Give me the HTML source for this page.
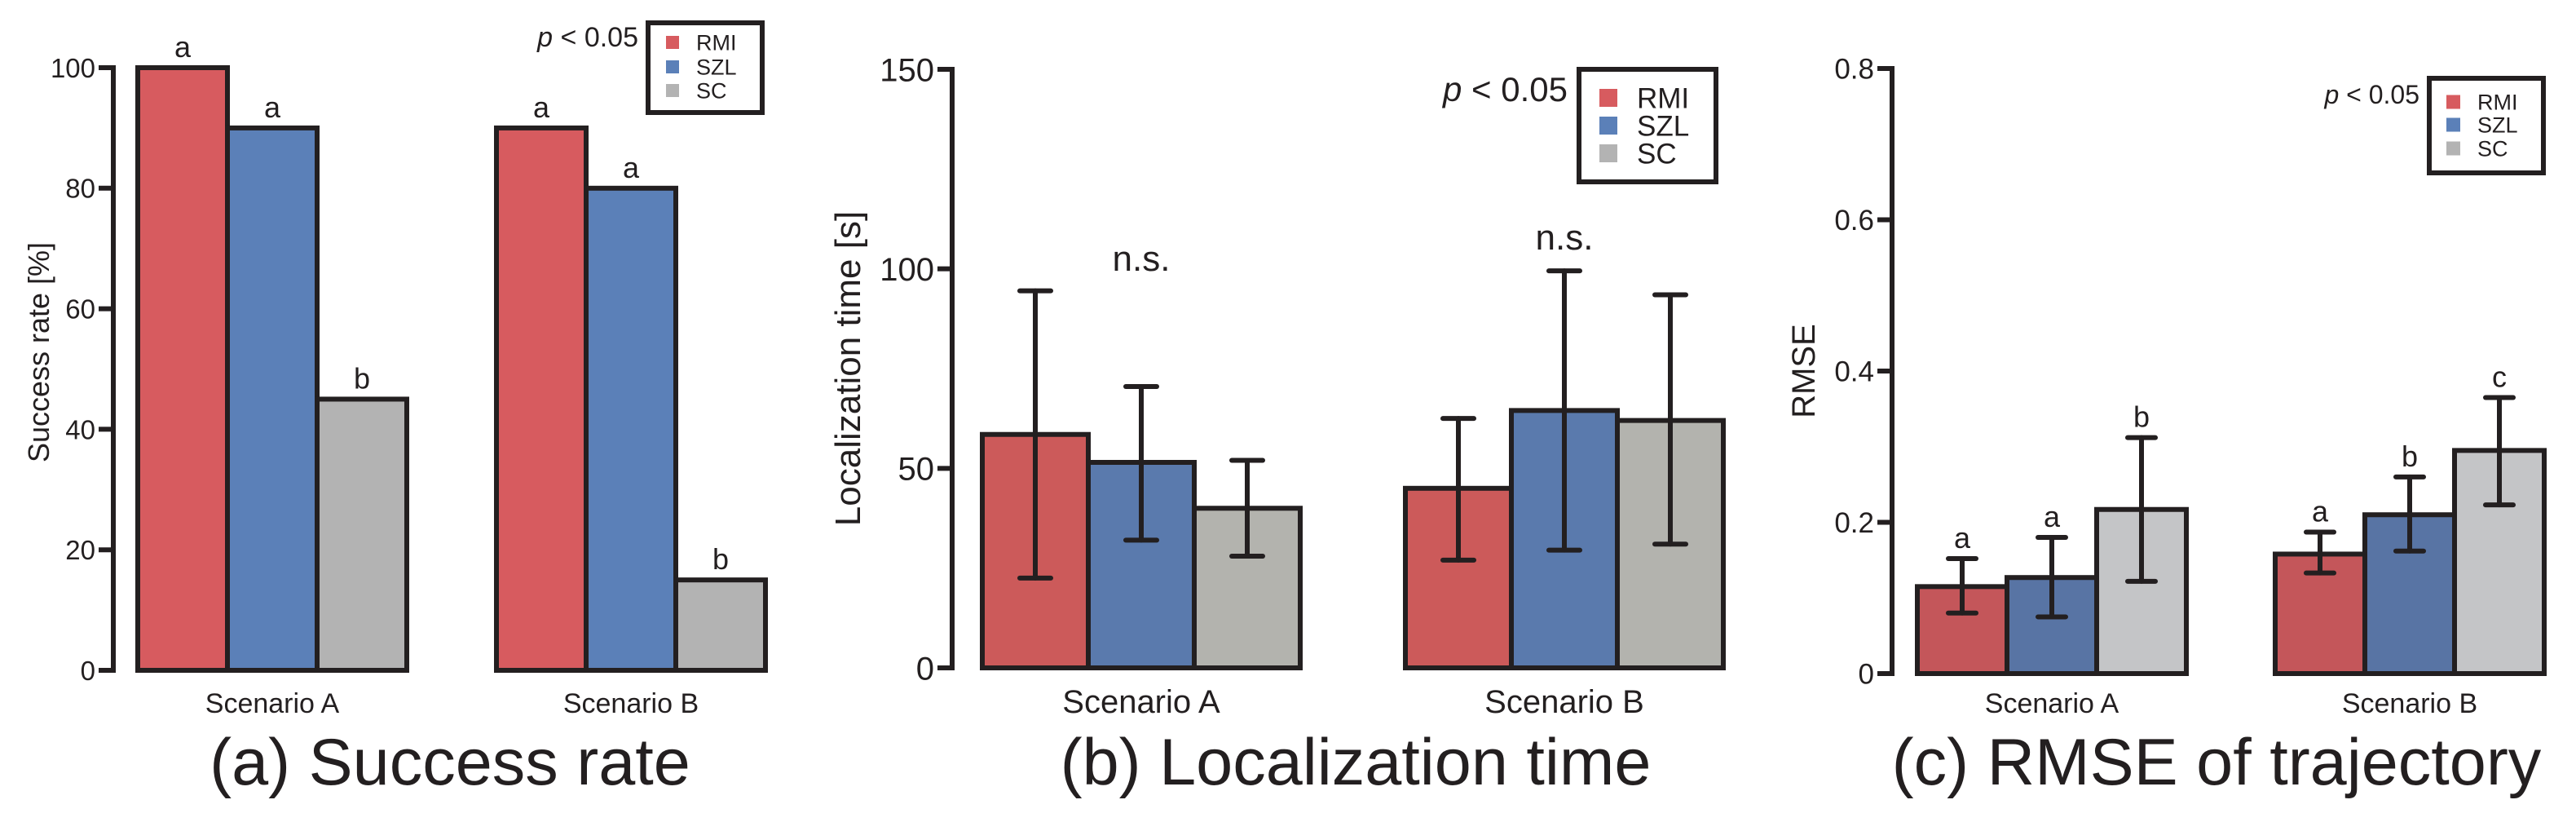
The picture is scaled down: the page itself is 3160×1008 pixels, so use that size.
<!DOCTYPE html>
<html><head><meta charset="utf-8"><style>
html,body{margin:0;padding:0;background:#fff;}
svg{display:block;font-family:"Liberation Sans",Arial,sans-serif;}
</style></head><body>
<svg id="fig" width="3160" height="1008" viewBox="0 0 3160 1008" xmlns="http://www.w3.org/2000/svg"></svg>
<script>
// ---- data ----
const scenarios = ["Scenario A", "Scenario B"];
const methods = ["RMI", "SZL", "SC"];
// (a) Success rate
const successRMI = [100, 90];
const successSZL = [90, 80];
const successSC = [45, 15];
const successLetters = [["a","a","b"],["a","a","b"]];
const successTicks = [0, 20, 40, 60, 80, 100];
// (b) Localization time
const timeRMI = [58.5, 45];
const timeSZL = [51.5, 64.5];
const timeSC = [40, 62];
const timeErrLowRMI = [22.5, 27];
const timeErrHighRMI = [94.5, 62.5];
const timeErrLowSZL = [32, 29.5];
const timeErrHighSZL = [70.5, 99.5];
const timeErrLowSC = [28, 31];
const timeErrHighSC = [52, 93.5];
const timeTicks = [0, 50, 100, 150];
const timeNotes = ["n.s.", "n.s."];
// (c) RMSE
const rmseRMI = [0.115, 0.158];
const rmseSZL = [0.127, 0.21];
const rmseSC = [0.217, 0.295];
const rmseErrLowRMI = [0.08, 0.133];
const rmseErrHighRMI = [0.152, 0.187];
const rmseErrLowSZL = [0.075, 0.162];
const rmseErrHighSZL = [0.18, 0.26];
const rmseErrLowSC = [0.122, 0.223];
const rmseErrHighSC = [0.312, 0.365];
const rmseLetters = [["a","a","b"],["a","b","c"]];
const rmseTicks = [0, 0.2, 0.4, 0.6, 0.8];

const NS = "http://www.w3.org/2000/svg";
const svg = document.getElementById("fig");
const DARK = "#231f20";
function mk(tag, attrs, parent, text) {
  const e = document.createElementNS(NS, tag);
  for (const k in attrs) e.setAttribute(k, attrs[k]);
  if (text !== undefined) e.textContent = text;
  (parent || svg).appendChild(e);
  return e;
}

function panel(cfg) {
  const g = mk("g", {});
  
  
  const y = v => cfg.y0 - (v - cfg.ymin) / (cfg.ymax - cfg.ymin) * (cfg.y0 - cfg.y1);
  const series = cfg.values;
  for (let s = 0; s < scenarios.length; s++) {
    for (let m = 0; m < 3; m++) {
      const x0 = cfg.groupX[s] + m * cfg.barW;
      const v = series[m][s];
      const r = mk("rect", {x: x0, y: y(v), width: cfg.barW, height: cfg.y0 - y(v), fill: cfg.colors[m], stroke: DARK, "stroke-width": 6}, g);
      
      
      const cx = x0 + cfg.barW / 2;
      let topV = v;
      if (cfg.errLow) {
        const lo = cfg.errLow[m][s], hi = cfg.errHigh[m][s];
        topV = hi;
        const eg = mk("g", {stroke: DARK, "stroke-width": 6, "stroke-linecap": "round"}, g);
        
        
        mk("line", {x1: cx, x2: cx, y1: y(lo), y2: y(hi)}, eg);
        mk("line", {x1: cx - cfg.cap, x2: cx + cfg.cap, y1: y(lo), y2: y(lo)}, eg);
        mk("line", {x1: cx - cfg.cap, x2: cx + cfg.cap, y1: y(hi), y2: y(hi)}, eg);
      }
      if (cfg.letters) {
        const t = mk("text", {x: cx, y: y(topV) - 13, "text-anchor": "middle", "font-size": cfg.letterSize, fill: DARK}, g, cfg.letters[s][m]);
        
        
      }
    }
    if (cfg.notes) {
      const t = mk("text", {x: cfg.groupX[s] + 1.5 * cfg.barW, y: cfg.noteY[s], "text-anchor": "middle", "font-size": 44, fill: DARK}, g, cfg.notes[s]);
      
      
    }
    const sl = mk("text", {x: cfg.groupX[s] + 1.5 * cfg.barW, y: 874, "text-anchor": "middle", "font-size": cfg.scenSize, fill: DARK}, g, scenarios[s]);
    
    
  }
  const ax = mk("line", {x1: cfg.axisX, x2: cfg.axisX, y1: y(cfg.ymax) - 3, y2: cfg.y0 + 3, stroke: DARK, "stroke-width": 6}, g);
  
  
  cfg.ticks.forEach(tv => {
    const tk = mk("line", {x1: cfg.axisX - 18, x2: cfg.axisX, y1: y(tv), y2: y(tv), stroke: DARK, "stroke-width": 6}, g);
    
    
    const tl = mk("text", {x: cfg.axisX - 22, y: y(tv) + cfg.tickSize * 0.36, "text-anchor": "end", "font-size": cfg.tickSize, fill: DARK}, g, cfg.tickFmt(tv));
    
    
  });
  const yt = mk("text", {x: 0, y: 0, transform: `translate(${cfg.ytX},${cfg.ytY}) rotate(-90)`, "text-anchor": "middle", "font-size": cfg.ytSize, fill: DARK}, g, cfg.ytitle);
  
  
  const L = cfg.legend;
  const lg = mk("g", {}, g);
  
  
  mk("rect", {x: L.x, y: L.y, width: L.w, height: L.h, fill: "#fff", stroke: DARK, "stroke-width": 6}, lg);
  for (let m = 0; m < 3; m++) {
    const cy = L.rows[m];
    const sq = mk("rect", {x: L.sqX, y: cy - L.sq / 2, width: L.sq, height: L.sq, fill: L.colors[m]}, lg);
    
    
    const lt = mk("text", {x: L.textX, y: cy + L.font * 0.36, "font-size": L.font, fill: DARK}, lg, methods[m]);
    
    
  }
  const p = mk("text", {x: cfg.p.x, y: cfg.p.y, "text-anchor": "end", "font-size": cfg.p.size, fill: DARK}, g);
  
  
  mk("tspan", {"font-style": "italic"}, p, "p");
  mk("tspan", {}, p, " < 0.05");
  const ti = mk("text", {x: cfg.titleX, y: 962, "text-anchor": "middle", "font-size": 81, fill: DARK}, g, cfg.title);
  
  
}

const legendColors = ["#d75b5f", "#5b80b8", "#b3b3b3"];

panel({
  name: "panel-success-rate", values: [successRMI, successSZL, successSC],
  ymin: 0, ymax: 100, y0: 822, y1: 83, axisX: 139, groupX: [169, 609], barW: 110,
  colors: ["#d75b5f", "#5b80b8", "#b3b3b3"], letters: successLetters, letterSize: 36,
  ticks: successTicks, tickFmt: v => String(v), tickSize: 33,
  ytitle: "Success rate [%]", ytX: 60, ytY: 432, ytSize: 36, scenSize: 34,
  legend: {x: 795, y: 28, w: 140, h: 110, sqX: 817, sq: 16, rows: [52, 82, 111], textX: 854, font: 27, colors: legendColors},
  p: {x: 783, y: 57, size: 34}, title: "(a) Success rate", titleX: 552
});

panel({
  name: "panel-localization-time", values: [timeRMI, timeSZL, timeSC],
  errLow: [timeErrLowRMI, timeErrLowSZL, timeErrLowSC], errHigh: [timeErrHighRMI, timeErrHighSZL, timeErrHighSC], cap: 19,
  ymin: 0, ymax: 150, y0: 819, y1: 85, axisX: 1168, groupX: [1205, 1724], barW: 130,
  colors: ["#cc5a5a", "#5a7aad", "#b3b3ae"],
  notes: timeNotes, noteY: [332, 306],
  ticks: timeTicks, tickFmt: v => String(v), tickSize: 40,
  ytitle: "Localization time [s]", ytX: 1055, ytY: 452, ytSize: 44, scenSize: 40,
  legend: {x: 1937, y: 85, w: 168, h: 138, sqX: 1962, sq: 22, rows: [120, 154, 188], textX: 2008, font: 35, colors: legendColors},
  p: {x: 1923, y: 124, size: 42}, title: "(b) Localization time", titleX: 1663
});

panel({
  name: "panel-rmse", values: [rmseRMI, rmseSZL, rmseSC],
  errLow: [rmseErrLowRMI, rmseErrLowSZL, rmseErrLowSC], errHigh: [rmseErrHighRMI, rmseErrHighSZL, rmseErrHighSC], cap: 17,
  ymin: 0, ymax: 0.8, y0: 826, y1: 84, axisX: 2321, groupX: [2352, 2791], barW: 110,
  colors: ["#c4565a", "#5874a4", "#c4c5c7"], letters: rmseLetters, letterSize: 36,
  ticks: rmseTicks, tickFmt: v => v === 0 ? "0" : v.toFixed(1), tickSize: 35,
  ytitle: "RMSE", ytX: 2226, ytY: 455, ytSize: 40, scenSize: 34,
  legend: {x: 2980, y: 96, w: 140, h: 116, sqX: 3001, sq: 17, rows: [125, 153, 182], textX: 3039, font: 27, colors: legendColors},
  p: {x: 2968, y: 127, size: 32}, title: "(c) RMSE of trajectory", titleX: 2719
});
</script>
</body></html>
